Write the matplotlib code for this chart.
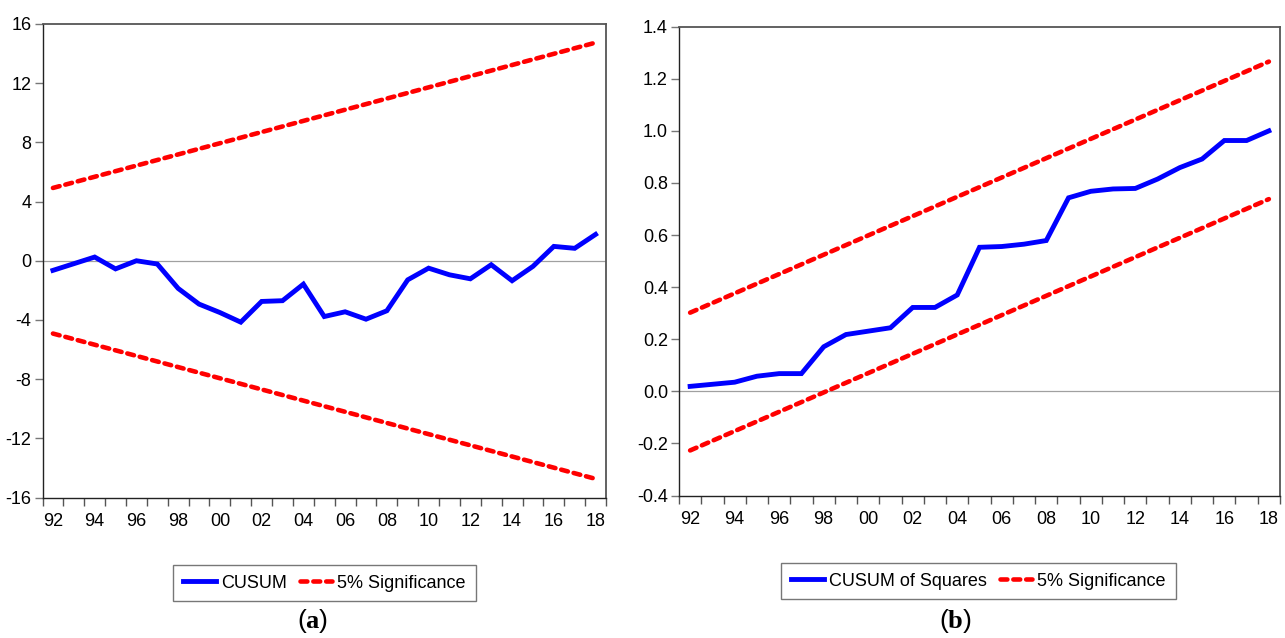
import matplotlib
matplotlib.use("Agg")
import matplotlib.pyplot as plt
import numpy as np

plt.rcParams['font.family'] = ['Liberation Sans', 'DejaVu Sans']
plt.rcParams['mathtext.fontset'] = 'custom'
plt.rcParams['mathtext.rm'] = 'Liberation Serif'
plt.rcParams['mathtext.bf'] = 'Liberation Serif:bold'

years = list(range(1992, 2019))

cusum = [-0.65, -0.2, 0.25, -0.55, 0.0, -0.22, -1.87, -2.93, -3.5, -4.15,
         -2.75, -2.7, -1.58, -3.77, -3.45, -3.95, -3.38, -1.29, -0.5, -0.95,
         -1.22, -0.27, -1.35, -0.38, 0.97, 0.84, 1.78]
cusum_sig_years = [1992, 2018]
cusum_upper = [4.92, 14.74]
cusum_lower = [-4.92, -14.74]

cusumsq = [0.019, 0.027, 0.035, 0.058, 0.068, 0.068, 0.171, 0.218, 0.231, 0.244,
           0.322, 0.322, 0.37, 0.553, 0.556, 0.565, 0.579, 0.743, 0.768, 0.777,
           0.779, 0.815, 0.859, 0.892, 0.963, 0.963, 1.0]
sq_sig_years = [1992, 2018]
sq_upper = [0.302, 1.266]
sq_lower = [-0.227, 0.738]

left_yticks = [16, 12, 8, 4, 0, -4, -8, -12, -16]
right_yticks = [1.4, 1.2, 1.0, 0.8, 0.6, 0.4, 0.2, 0.0, -0.2, -0.4]
label_years = list(range(1992, 2019, 2))

W, H = 1285, 638
fig = plt.figure(figsize=(W / 100, H / 100), dpi=100)

ax1 = fig.add_axes([42.5 / W, 1 - 497.5 / H, (606 - 42.5) / W, (497.5 - 24) / H])
ax2 = fig.add_axes([679 / W, 1 - 495.5 / H, (1280 - 679) / W, (495.5 - 26.7) / H])

blue = '#0000ff'
red = '#ff0000'
TICKFS = 13

def style(ax, ylim, yticks, fmt):
    ax.set_xlim(1991.5, 2018.5)
    ax.set_ylim(*ylim)
    ax.axhline(0, color='#a0a0a0', lw=0.9, zorder=1)
    ax.set_xticks(label_years)
    ax.set_xticklabels([f"{y % 100:02d}" for y in label_years], fontsize=TICKFS)
    ax.set_xticks([y - 0.5 for y in years] + [2018.5], minor=True)
    ax.tick_params(axis='x', which='major', length=0, pad=11)
    ax.tick_params(axis='x', which='minor', length=6, width=1, color='#555555', direction='out')
    ax.set_yticks(yticks)
    ax.set_yticklabels([fmt(v) for v in yticks], fontsize=TICKFS)
    ax.tick_params(axis='y', length=6, width=1, color='#777777', direction='out', pad=2)
    for s in ['top', 'right']:
        ax.spines[s].set_color('#555555')
        ax.spines[s].set_linewidth(1.3)
    for s in ['left', 'bottom']:
        ax.spines[s].set_color('#222222')
        ax.spines[s].set_linewidth(1.0)

ax1.plot(years, cusum, color=blue, lw=3.5, solid_joinstyle='miter', label='CUSUM', zorder=3)
ax1.plot(cusum_sig_years, cusum_upper, color=red, lw=3.3, dashes=(1.5, 1.3),
         dash_capstyle='round', label='5% Significance', zorder=2)
ax1.plot(cusum_sig_years, cusum_lower, color=red, lw=3.3, dashes=(1.5, 1.3),
         dash_capstyle='round', zorder=2)
style(ax1, (-16, 16), left_yticks, lambda v: f"{v:d}")

ax2.plot(years, cusumsq, color=blue, lw=3.5, solid_joinstyle='miter', label='CUSUM of Squares', zorder=3)
ax2.plot(sq_sig_years, sq_upper, color=red, lw=3.3, dashes=(1.5, 1.3),
         dash_capstyle='round', label='5% Significance', zorder=2)
ax2.plot(sq_sig_years, sq_lower, color=red, lw=3.3, dashes=(1.5, 1.3),
         dash_capstyle='round', zorder=2)
style(ax2, (-0.4, 1.4), right_yticks, lambda v: f"{v:.1f}")

for ax, cx, cy in [(ax1, 324.5, 583), (ax2, 978.5, 581)]:
    leg = ax.legend(loc='center', bbox_to_anchor=(cx / W, 1 - cy / H),
                    bbox_transform=fig.transFigure, ncol=2, fontsize=13,
                    frameon=True, fancybox=False, edgecolor='#555555',
                    handlelength=1.8, handletextpad=0.3, columnspacing=0.7,
                    borderpad=0.55, borderaxespad=0)
    leg.get_frame().set_linewidth(1.0)

fig.text(313 / W, 1 - 621 / H, r'($\mathbf{a}$)', ha='center', va='center', fontsize=19)
fig.text(955 / W, 1 - 621 / H, r'($\mathbf{b}$)', ha='center', va='center', fontsize=19)

fig.savefig('out.png', dpi=100)
